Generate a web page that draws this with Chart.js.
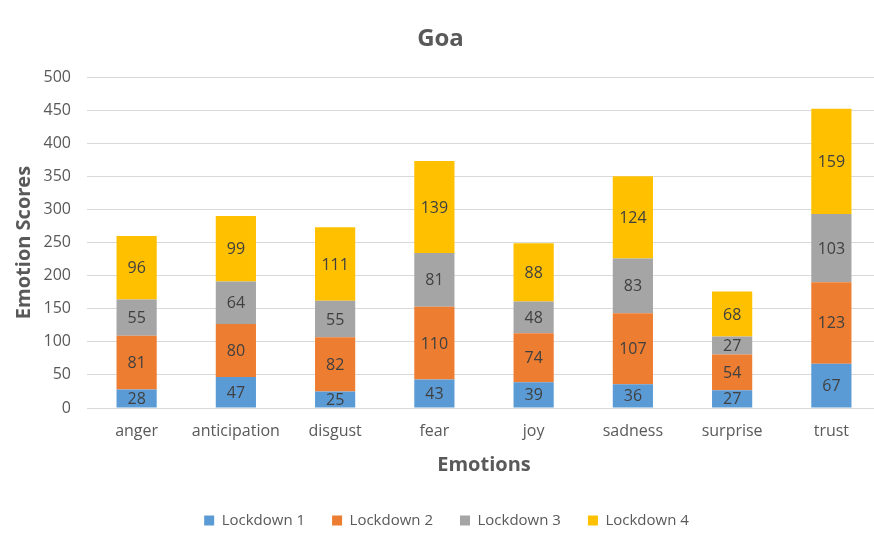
<!DOCTYPE html>
<html>
<head>
<meta charset="utf-8">
<title>Goa</title>
<script src="https://cdn.jsdelivr.net/npm/chart.js@4"></script>
<style>
  html, body { margin: 0; padding: 0; background: #fff; overflow: hidden; }
  #wrap { width: 874px; height: 536px; overflow: hidden; }
  #wrap div { width: 890px; height: 536px; }
</style>
</head>
<body>
<div id="wrap"><div><canvas id="emotion-chart" width="890" height="536"></canvas></div></div>
<script>
const emotions = ["anger", "anticipation", "disgust", "fear", "joy", "sadness", "surprise", "trust"];
const lockdown1 = [28, 47, 25, 43, 39, 36, 27, 67];
const lockdown2 = [81, 80, 82, 110, 74, 107, 54, 123];
const lockdown3 = [55, 64, 55, 81, 48, 83, 27, 103];
const lockdown4 = [96, 99, 111, 139, 88, 124, 68, 159];
const yTicks = [0, 50, 100, 150, 200, 250, 300, 350, 400, 450, 500];

const fontFamily = "'Open Sans', sans-serif";
const textGrey = "#595959";

// writes each segment's value in the middle of the segment
const valueLabels = {
  id: "valueLabels",
  afterDatasetsDraw(chart) {
    const ctx = chart.ctx;
    ctx.save();
    ctx.font = "16px " + fontFamily;
    ctx.fillStyle = "#404040";
    ctx.textAlign = "center";
    ctx.textBaseline = "middle";
    chart.data.datasets.forEach((ds, i) => {
      chart.getDatasetMeta(i).data.forEach((bar, j) => {
        const { x, y, base } = bar.getProps(["x", "y", "base"], true);
        ctx.fillText(ds.data[j], x, (y + base) / 2 + 1);
      });
    });
    ctx.restore();
  }
};

// legend keeps wide gaps between items but only a short box height,
// and sits a little right of the canvas centre
const legendTweaks = {
  id: "legendTweaks",
  beforeInit(chart) {
    const legend = chart.legend;
    const fit = legend.fit;
    const draw = legend.draw;
    legend.fit = function () {
      fit.call(this);
      this.height = 50;
    };
    legend.draw = function () {
      this.ctx.save();
      this.ctx.translate(6, 0);
      draw.call(this);
      this.ctx.restore();
    };
  }
};

const makeSet = (label, data, color) => ({
  label: label,
  data: data,
  backgroundColor: color,
  borderWidth: 0,
  categoryPercentage: 1,
  barPercentage: 0.405
});

new Chart(document.getElementById("emotion-chart"), {
  type: "bar",
  data: {
    labels: emotions,
    datasets: [
      makeSet("Lockdown 1", lockdown1, "#5b9bd5"),
      makeSet("Lockdown 2", lockdown2, "#ed7d31"),
      makeSet("Lockdown 3", lockdown3, "#a5a5a5"),
      makeSet("Lockdown 4", lockdown4, "#ffc000")
    ]
  },
  options: {
    responsive: false,
    animation: false,
    layout: { padding: { left: 0, right: 9, top: 0, bottom: 0 } },
    plugins: {
      title: {
        display: true,
        text: "Goa",
        color: textGrey,
        font: { family: fontFamily, size: 24, weight: "bold" },
        padding: { top: 24.6, bottom: 23.6 }
      },
      legend: {
        position: "bottom",
        labels: {
          color: textGrey,
          font: { family: fontFamily, size: 15 },
          boxWidth: 10,
          boxHeight: 10,
          padding: 27
        }
      },
      tooltip: { enabled: false }
    },
    scales: {
      x: {
        stacked: true,
        grid: { display: false, drawTicks: false },
        border: { display: false },
        ticks: { color: textGrey, font: { family: fontFamily, size: 16 }, padding: 14 },
        title: {
          display: true,
          text: "Emotions",
          color: textGrey,
          font: { family: fontFamily, size: 20, weight: "bold" },
          padding: { top: 0, bottom: 9 }
        },
        afterFit(scale) { scale.height = 78; }
      },
      y: {
        stacked: true,
        min: 0,
        max: 500,
        afterBuildTicks(scale) { scale.ticks = yTicks.map(v => ({ value: v })); },
        grid: { color: "#d9d9d9", drawTicks: false },
        border: { display: false },
        ticks: { color: textGrey, font: { family: fontFamily, size: 16 }, padding: 16 },
        title: {
          display: true,
          text: "Emotion Scores",
          color: textGrey,
          font: { family: fontFamily, size: 20, weight: "bold" },
          padding: { top: 12, bottom: 0 }
        },
        afterFit(scale) { scale.width = 87; }
      }
    }
  },
  plugins: [valueLabels, legendTweaks]
});
</script>
</body>
</html>
